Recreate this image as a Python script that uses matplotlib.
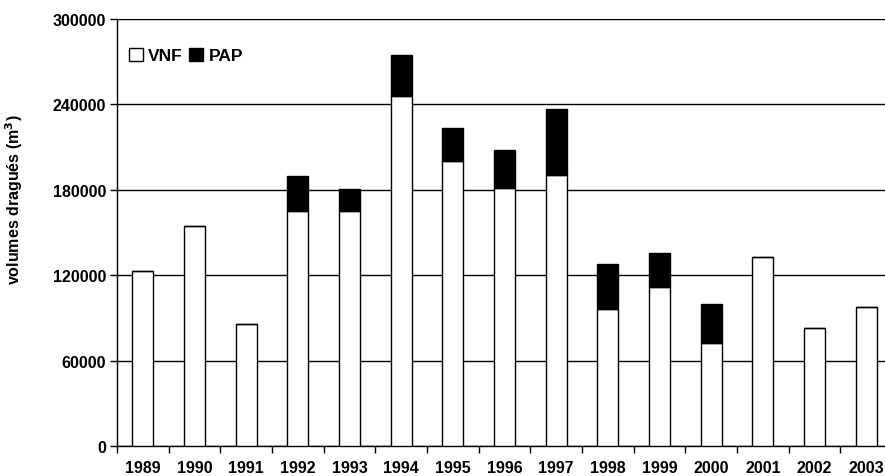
import matplotlib.pyplot as plt
import numpy as np

plt.rcParams['font.family'] = ['Liberation Sans', 'DejaVu Sans']
plt.rcParams['font.weight'] = 'bold'

# Data
years = ['1989', '1990', '1991', '1992', '1993', '1994', '1995', '1996',
         '1997', '1998', '1999', '2000', '2001', '2002', '2003']
vnf = [123000, 154500, 86000, 165000, 165000, 246000, 200500, 181000,
       190500, 96000, 112000, 72500, 132500, 82700, 97600]
pap = [0, 0, 0, 25000, 15800, 28800, 23000, 26700,
       46000, 32200, 23800, 27400, 0, 0, 0]

fig = plt.figure(figsize=(8.85, 4.77), dpi=100)
ax = fig.add_axes([117 / 885, 30 / 477, 775 / 885, 427 / 477])

x = np.arange(len(years))
w = 0.41
ax.bar(x, vnf, w, color='white', edgecolor='black', linewidth=1.0,
       label='VNF', zorder=3)
ax.bar(x, pap, w, bottom=vnf, color='black', edgecolor='black',
       linewidth=1.0, label='PAP', zorder=3)

ax.set_xlim(-0.5, len(years) - 0.5)
ax.set_ylim(0, 300000)
ax.set_yticks(np.arange(0, 300001, 60000))
ax.yaxis.grid(True, color='black', linewidth=1.0, zorder=0)
ax.set_axisbelow(True)

# x ticks sit between categories, labels at centres
ax.set_xticks(np.arange(-0.5, len(years), 1.0))
ax.set_xticklabels([])
ax.set_xticks(x, minor=True)
ax.set_xticklabels(years, minor=True)
ax.tick_params(axis='x', which='minor', length=0, pad=10, labelsize=11.5)
ax.tick_params(axis='x', which='major', length=5, direction='out',
               width=1.0)
ax.tick_params(axis='y', length=5, direction='out', width=1.0,
               labelsize=11.5, pad=3)
for lbl in ax.get_xticklabels(minor=True) + ax.get_yticklabels():
    lbl.set_fontweight('bold')

ax.spines['top'].set_visible(False)
ax.spines['right'].set_visible(False)
ax.spines['left'].set_linewidth(1.0)
ax.spines['bottom'].set_linewidth(1.0)

fig.text(0.0164, 0.581, 'volumes dragués (m$^{\\mathbf{3}}$)', rotation=90,
         ha='center', va='center', fontsize=11.5, fontweight='bold')

ax.legend(loc='upper left', bbox_to_anchor=(120 / 885, 1 - 40 / 477),
          bbox_transform=fig.transFigure, ncol=2, frameon=False,
          handlelength=0.8, handleheight=0.8, handletextpad=0.3,
          columnspacing=0.4, borderpad=0,
          prop={'size': 12.5, 'weight': 'bold'})

fig.savefig('out.png', dpi=100)
